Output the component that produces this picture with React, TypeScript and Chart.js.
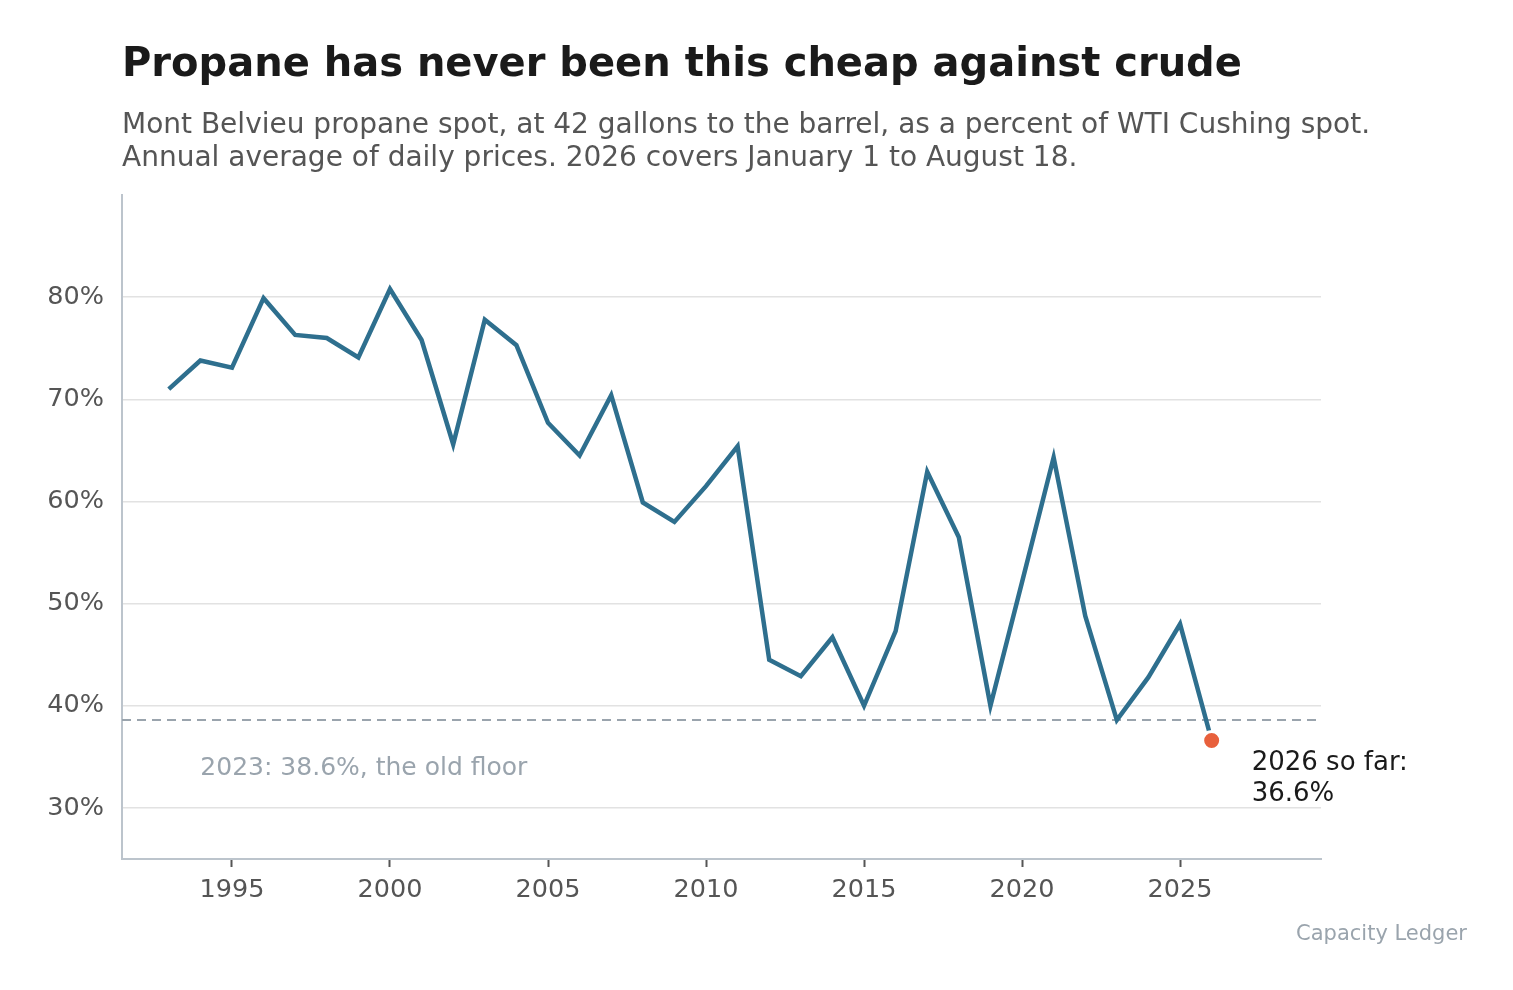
import { useEffect, useRef } from "react";
import { Chart, registerables } from "chart.js";

Chart.register(...registerables);

const years = [
  1993, 1994, 1995, 1996, 1997, 1998, 1999, 2000, 2001, 2002, 2003, 2004, 2005, 2006, 2007, 2008, 2009,
  2010, 2011, 2012, 2013, 2014, 2015, 2016, 2017, 2018, 2019, 2020, 2021, 2022, 2023, 2024, 2025, 2026,
];
const ratio = [
  71.0, 73.8, 73.1, 79.9, 76.3, 76.0, 74.1, 80.8, 75.8, 65.6, 77.8, 75.3, 67.7, 64.5, 70.4, 59.9, 58.0,
  61.5, 65.4, 44.5, 42.9, 46.7, 40.0, 47.3, 62.9, 56.5, 40.0, 52.1, 64.3, 48.8, 38.6, 42.8, 48.0, 36.6,
];
const xTicks = [1995, 2000, 2005, 2010, 2015, 2020, 2025];
const yTicks = [30, 40, 50, 60, 70, 80];
const oldFloor = 38.6;
const latestYear = 2026;
const latestValue = 36.6;

const FONT = "'DejaVu Sans', sans-serif";

export default function App() {
  const canvasRef = useRef<HTMLCanvasElement>(null);
  const chartRef = useRef<Chart | null>(null);

  useEffect(() => {
    if (!canvasRef.current) return;
    if (chartRef.current) chartRef.current.destroy();

    const overlay = {
      id: "overlay",
      beforeDatasetsDraw(chart: any) {
        const { ctx, chartArea, scales } = chart;
        const y = scales.y.getPixelForValue(oldFloor);
        ctx.save();
        ctx.strokeStyle = "#9aa4ad";
        ctx.lineWidth = 2;
        ctx.setLineDash([9, 6]);
        ctx.beginPath();
        ctx.moveTo(chartArea.left, y);
        ctx.lineTo(chartArea.right, y);
        ctx.stroke();
        ctx.restore();
      },
      afterDraw(chart: any) {
        const { ctx, scales } = chart;
        ctx.save();
        ctx.textBaseline = "alphabetic";
        ctx.textAlign = "left";
        ctx.fillStyle = "#1a1a1a";
        ctx.font = `bold 40px ${FONT}`;
        ctx.fillText("Propane has never been this cheap against crude", 122, 76);
        ctx.fillStyle = "#555555";
        ctx.font = `28px ${FONT}`;
        ctx.fillText(
          "Mont Belvieu propane spot, at 42 gallons to the barrel, as a percent of WTI Cushing spot.",
          122,
          133
        );
        ctx.fillText("Annual average of daily prices. 2026 covers January 1 to August 18.", 122, 166);

        const floorY = scales.y.getPixelForValue(oldFloor);
        ctx.fillStyle = "#9aa4ad";
        ctx.font = `25px ${FONT}`;
        ctx.fillText("2023: 38.6%, the old floor", scales.x.getPixelForValue(1994), floorY + 55);

        const lx = scales.x.getPixelForValue(latestYear) + 40;
        const ly = scales.y.getPixelForValue(latestValue);
        ctx.fillStyle = "#1a1a1a";
        ctx.font = `26px ${FONT}`;
        ctx.fillText("2026 so far:", lx, ly + 29);
        ctx.fillText("36.6%", lx, ly + 60);

        ctx.fillStyle = "#9aa4ad";
        ctx.font = `21px ${FONT}`;
        ctx.textAlign = "right";
        ctx.fillText("Capacity Ledger", 1467, 940);
        ctx.restore();
      },
    };

    chartRef.current = new Chart(canvasRef.current, {
      type: "line",
      data: {
        datasets: [
          {
            data: [{ x: latestYear, y: latestValue }],
            showLine: false,
            pointRadius: 9,
            pointBackgroundColor: "#e8603c",
            pointBorderColor: "#ffffff",
            pointBorderWidth: 3,
            order: 0,
          },
          {
            data: years.map((yr, i) => ({ x: yr, y: ratio[i] })),
            borderColor: "#2e6f8e",
            borderWidth: 4.5,
            pointRadius: 0,
            tension: 0,
            fill: false,
            order: 1,
          },
        ],
      },
      options: {
        animation: false,
        responsive: false,
        maintainAspectRatio: false,
        layout: { padding: { top: 195, right: 192, left: 0, bottom: 0 } },
        plugins: { legend: { display: false }, tooltip: { enabled: false } },
        scales: {
          x: {
            type: "linear",
            min: 1991.52,
            max: 2029.46,
            afterBuildTicks: (s: any) => {
              s.ticks = xTicks.map((v) => ({ value: v }));
            },
            afterFit: (s: any) => {
              s.height = 131;
            },
            grid: {
              display: true,
              drawOnChartArea: false,
              drawTicks: true,
              tickLength: 8,
              tickColor: "#555555",
              tickWidth: 2,
            },
            border: { display: true, color: "#bcc4cc", width: 2 },
            ticks: {
              color: "#555555",
              font: { family: FONT, size: 25.5 },
              padding: 8,
              maxRotation: 0,
              callback: (v: any) => String(v),
            },
          },
          y: {
            type: "linear",
            min: 25,
            max: 90,
            afterBuildTicks: (s: any) => {
              s.ticks = yTicks.map((v) => ({ value: v }));
            },
            afterFit: (s: any) => {
              s.width = 122;
            },
            grid: { color: "#e2e2e2", lineWidth: 1.5, drawTicks: false },
            border: { display: true, color: "#bcc4cc", width: 2 },
            ticks: {
              color: "#555555",
              font: { family: FONT, size: 25.5 },
              padding: 18,
              callback: (v: any) => `${v}%`,
            },
          },
        },
      },
      plugins: [overlay],
    });

    return () => {
      if (chartRef.current) {
        chartRef.current.destroy();
        chartRef.current = null;
      }
    };
  }, []);

  return (
    <div style={{ position: "absolute", left: 0, top: 0, width: 1513, height: 990, background: "#ffffff" }}>
      <canvas ref={canvasRef} width={1513} height={990} style={{ width: 1513, height: 990 }} />
    </div>
  );
}
